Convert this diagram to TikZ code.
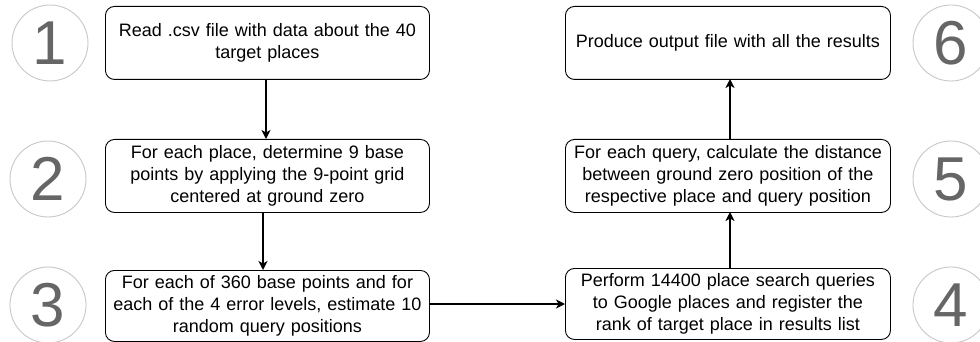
\documentclass[tikz,border=0pt]{standalone}
\usepackage{fontspec}
\setmainfont{Liberation Sans}
\usetikzlibrary{arrows.meta}
\tikzset{
  stepbox/.style={draw=black, line width=0.9pt, rounded corners=9pt, minimum width=324pt, minimum height=73pt, align=center, inner sep=1pt, text width=322pt, font=\fontsize{18}{22}\selectfont, anchor=north west},
  numcirc/.style={circle, draw=black!22, line width=0.9pt, minimum size=76pt, inner sep=0pt, text=black!60, font=\fontsize{62}{62}\selectfont},
  flow/.style={line width=1.5pt, -{Stealth[length=9pt,width=9pt,inset=2.5pt]}}
}
\begin{document}
\begin{tikzpicture}[x=1pt,y=-1pt]
\useasboundingbox (0,0) rectangle (980,342);
\node[stepbox] (b1) at (105,6) {Read .csv file with data about the 40\\target places};
\node[stepbox] (b2) at (105,139) {For each place, determine 9 base\\points by applying the 9-point grid\\centered at ground zero};
\node[stepbox, minimum height=71pt] (b3) at (105,270) {For each of 360 base points and for\\each of the 4 error levels, estimate 10\\random query positions};
\node[stepbox, minimum width=325pt] (b6) at (565,6) {Produce output file with all the results};
\node[stepbox, minimum width=325pt] (b5) at (565,139) {For each query, calculate the distance\\between ground zero position of the\\respective place and query position};
\node[stepbox, minimum width=325pt, minimum height=71pt] (b4) at (565,268) {Perform 14400 place search queries\\to Google places and register the\\rank of target place in results list};
\node[numcirc] (c1) at (50,43) {1};
\node[numcirc] (c2) at (48,179) {2};
\node[numcirc] (c3) at (48,305) {3};
\node[numcirc] (c6) at (951,43) {6};
\node[numcirc] (c5) at (951,179) {5};
\node[numcirc] (c4) at (951,305) {4};
\coordinate (a1) at (266,79);
\coordinate (a2) at (266,139);
\coordinate (d1) at (263,212);
\coordinate (d2) at (263,270);
\coordinate (e1) at (429,304);
\coordinate (e2) at (565,304);
\coordinate (f1) at (730,268);
\coordinate (f2) at (730,212);
\coordinate (g1) at (730,139);
\coordinate (g2) at (730,79);
\draw[flow] (a1) -- (a2);
\draw[flow] (d1) -- (d2);
\draw[flow] (e1) -- (e2);
\draw[flow] (f1) -- (f2);
\draw[flow] (g1) -- (g2);
\end{tikzpicture}
\end{document}
